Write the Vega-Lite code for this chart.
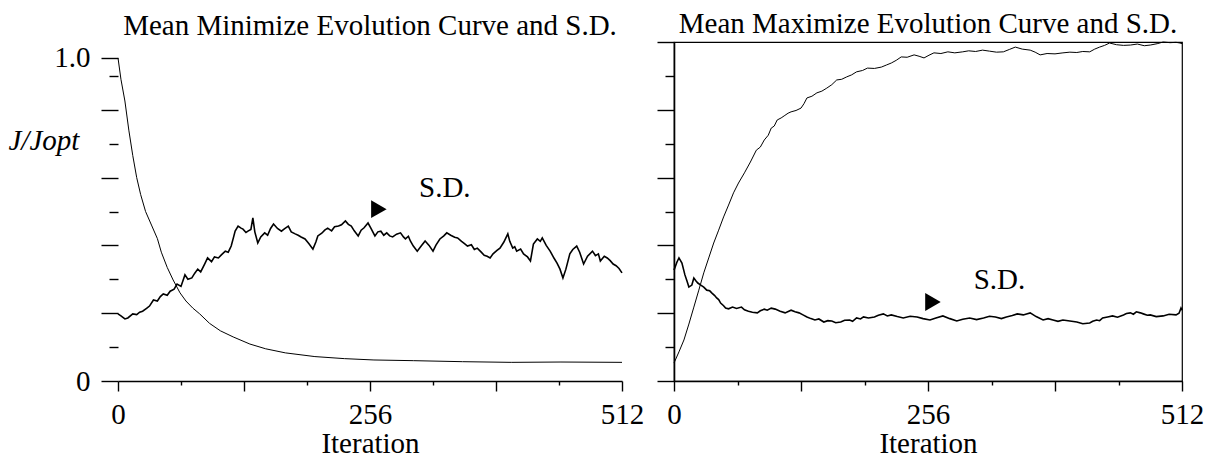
{
 "$schema": "https://vega.github.io/schema/vega-lite/v6.json",
 "background": "white",
 "padding": {"left": 8, "top": 9, "right": 5, "bottom": 0},
 "spacing": 11,
 "config": {
  "font": "Liberation Serif",
  "view": {"stroke": "black", "strokeWidth": 1.2},
  "axis": {"domainColor": "black", "domainWidth": 1.6, "tickColor": "black", "tickWidth": 1.4, "labelColor": "black", "labelFont": "Liberation Serif", "labelFontSize": 29, "titleFont": "Liberation Serif", "titleFontSize": 29, "titleFontWeight": "normal", "titleColor": "black", "grid": false},
  "title": {"font": "Liberation Serif", "fontSize": 29, "fontWeight": "normal", "color": "black", "baseline": "alphabetic", "offset": 1, "anchor": "middle"}
 },
 "datasets": {
  "minMean": [{"it":0,"v":0.953},{"it":3,"v":0.89},{"it":7,"v":0.826},{"it":11,"v":0.74},{"it":15,"v":0.665},{"it":19,"v":0.6},{"it":23,"v":0.55},{"it":28,"v":0.5},{"it":34,"v":0.46},{"it":40,"v":0.42},{"it":44,"v":0.38},{"it":50,"v":0.335},{"it":56,"v":0.298},{"it":63,"v":0.26},{"it":69,"v":0.236},{"it":76,"v":0.215},{"it":83,"v":0.198},{"it":93,"v":0.17},{"it":104,"v":0.148},{"it":117,"v":0.13},{"it":134,"v":0.109},{"it":150,"v":0.095},{"it":170,"v":0.083},{"it":200,"v":0.072},{"it":230,"v":0.066},{"it":260,"v":0.062},{"it":300,"v":0.06},{"it":350,"v":0.057},{"it":400,"v":0.055},{"it":450,"v":0.056},{"it":512,"v":0.055}],
  "minSD": [{"it":0,"v":0.198},{"it":3,"v":0.192},{"it":7,"v":0.183},{"it":10,"v":0.186},{"it":15,"v":0.198},{"it":19,"v":0.196},{"it":22,"v":0.203},{"it":25,"v":0.206},{"it":29,"v":0.214},{"it":32,"v":0.221},{"it":36,"v":0.239},{"it":40,"v":0.236},{"it":43,"v":0.249},{"it":46,"v":0.257},{"it":50,"v":0.253},{"it":53,"v":0.265},{"it":57,"v":0.271},{"it":60,"v":0.286},{"it":64,"v":0.279},{"it":68,"v":0.313},{"it":71,"v":0.3},{"it":75,"v":0.304},{"it":78,"v":0.318},{"it":81,"v":0.33},{"it":84,"v":0.322},{"it":88,"v":0.345},{"it":91,"v":0.363},{"it":95,"v":0.352},{"it":98,"v":0.366},{"it":102,"v":0.363},{"it":105,"v":0.372},{"it":109,"v":0.383},{"it":112,"v":0.38},{"it":115,"v":0.398},{"it":117,"v":0.42},{"it":119,"v":0.442},{"it":122,"v":0.457},{"it":125,"v":0.451},{"it":127,"v":0.448},{"it":130,"v":0.438},{"it":132,"v":0.442},{"it":135,"v":0.447},{"it":137,"v":0.481},{"it":139,"v":0.44},{"it":142,"v":0.407},{"it":145,"v":0.425},{"it":149,"v":0.437},{"it":152,"v":0.43},{"it":155,"v":0.45},{"it":158,"v":0.463},{"it":162,"v":0.45},{"it":166,"v":0.442},{"it":169,"v":0.449},{"it":173,"v":0.457},{"it":176,"v":0.44},{"it":180,"v":0.434},{"it":183,"v":0.43},{"it":186,"v":0.425},{"it":190,"v":0.419},{"it":194,"v":0.405},{"it":198,"v":0.389},{"it":201,"v":0.41},{"it":203,"v":0.428},{"it":207,"v":0.436},{"it":210,"v":0.445},{"it":213,"v":0.451},{"it":217,"v":0.443},{"it":220,"v":0.455},{"it":224,"v":0.457},{"it":227,"v":0.461},{"it":231,"v":0.472},{"it":234,"v":0.462},{"it":237,"v":0.457},{"it":240,"v":0.443},{"it":244,"v":0.428},{"it":247,"v":0.445},{"it":250,"v":0.452},{"it":254,"v":0.466},{"it":257,"v":0.45},{"it":261,"v":0.428},{"it":264,"v":0.44},{"it":267,"v":0.442},{"it":270,"v":0.43},{"it":273,"v":0.437},{"it":276,"v":0.428},{"it":279,"v":0.425},{"it":283,"v":0.433},{"it":287,"v":0.437},{"it":290,"v":0.425},{"it":292,"v":0.419},{"it":295,"v":0.427},{"it":297,"v":0.413},{"it":300,"v":0.398},{"it":304,"v":0.383},{"it":308,"v":0.398},{"it":312,"v":0.413},{"it":316,"v":0.4},{"it":320,"v":0.383},{"it":323,"v":0.401},{"it":327,"v":0.419},{"it":331,"v":0.428},{"it":334,"v":0.437},{"it":338,"v":0.43},{"it":342,"v":0.424},{"it":345,"v":0.422},{"it":349,"v":0.412},{"it":352,"v":0.405},{"it":355,"v":0.398},{"it":359,"v":0.402},{"it":362,"v":0.388},{"it":365,"v":0.392},{"it":369,"v":0.38},{"it":372,"v":0.371},{"it":375,"v":0.368},{"it":378,"v":0.363},{"it":381,"v":0.375},{"it":385,"v":0.385},{"it":388,"v":0.392},{"it":392,"v":0.41},{"it":396,"v":0.434},{"it":398,"v":0.412},{"it":401,"v":0.392},{"it":403,"v":0.396},{"it":405,"v":0.383},{"it":409,"v":0.389},{"it":412,"v":0.375},{"it":416,"v":0.366},{"it":419,"v":0.354},{"it":422,"v":0.404},{"it":426,"v":0.419},{"it":429,"v":0.412},{"it":431,"v":0.422},{"it":435,"v":0.4},{"it":439,"v":0.383},{"it":443,"v":0.362},{"it":446,"v":0.348},{"it":449,"v":0.33},{"it":452,"v":0.304},{"it":455,"v":0.33},{"it":459,"v":0.375},{"it":462,"v":0.388},{"it":466,"v":0.398},{"it":469,"v":0.38},{"it":473,"v":0.345},{"it":477,"v":0.368},{"it":482,"v":0.383},{"it":485,"v":0.37},{"it":488,"v":0.375},{"it":490,"v":0.354},{"it":494,"v":0.368},{"it":497,"v":0.363},{"it":500,"v":0.355},{"it":503,"v":0.345},{"it":506,"v":0.34},{"it":509,"v":0.332},{"it":512,"v":0.319}],
  "maxMean": [{"it":0,"v":0.053},{"it":5,"v":0.086},{"it":10,"v":0.121},{"it":15,"v":0.168},{"it":20,"v":0.218},{"it":25,"v":0.268},{"it":30,"v":0.319},{"it":35,"v":0.363},{"it":40,"v":0.407},{"it":45,"v":0.445},{"it":50,"v":0.484},{"it":55,"v":0.519},{"it":60,"v":0.555},{"it":65,"v":0.584},{"it":71,"v":0.614},{"it":77,"v":0.646},{"it":83,"v":0.681},{"it":87,"v":0.69},{"it":91,"v":0.711},{"it":95,"v":0.725},{"it":98,"v":0.746},{"it":101,"v":0.752},{"it":104,"v":0.77},{"it":108,"v":0.776},{"it":111,"v":0.782},{"it":115,"v":0.79},{"it":118,"v":0.794},{"it":123,"v":0.798},{"it":128,"v":0.805},{"it":131,"v":0.818},{"it":134,"v":0.835},{"it":139,"v":0.84},{"it":144,"v":0.85},{"it":149,"v":0.855},{"it":154,"v":0.864},{"it":159,"v":0.874},{"it":164,"v":0.888},{"it":169,"v":0.89},{"it":174,"v":0.897},{"it":179,"v":0.903},{"it":184,"v":0.912},{"it":190,"v":0.916},{"it":195,"v":0.923},{"it":202,"v":0.922},{"it":209,"v":0.926},{"it":214,"v":0.932},{"it":219,"v":0.938},{"it":224,"v":0.946},{"it":229,"v":0.956},{"it":235,"v":0.955},{"it":242,"v":0.962},{"it":247,"v":0.958},{"it":252,"v":0.953},{"it":257,"v":0.961},{"it":262,"v":0.968},{"it":269,"v":0.966},{"it":276,"v":0.971},{"it":283,"v":0.968},{"it":291,"v":0.971},{"it":297,"v":0.974},{"it":304,"v":0.972},{"it":311,"v":0.976},{"it":318,"v":0.973},{"it":325,"v":0.97},{"it":332,"v":0.971},{"it":338,"v":0.978},{"it":344,"v":0.985},{"it":351,"v":0.979},{"it":359,"v":0.976},{"it":364,"v":0.97},{"it":369,"v":0.962},{"it":376,"v":0.966},{"it":384,"v":0.965},{"it":392,"v":0.968},{"it":399,"v":0.97},{"it":406,"v":0.969},{"it":412,"v":0.972},{"it":419,"v":0.971},{"it":424,"v":0.979},{"it":429,"v":0.985},{"it":434,"v":0.99},{"it":439,"v":0.997},{"it":446,"v":0.992},{"it":453,"v":0.99},{"it":460,"v":0.991},{"it":467,"v":0.994},{"it":474,"v":0.989},{"it":480,"v":0.991},{"it":487,"v":0.995},{"it":493,"v":1.0},{"it":500,"v":0.998},{"it":506,"v":0.999},{"it":510,"v":0.997},{"it":512,"v":0.995}],
  "maxSD": [{"it":0,"v":0.327},{"it":3,"v":0.351},{"it":5,"v":0.363},{"it":8,"v":0.348},{"it":11,"v":0.313},{"it":13,"v":0.296},{"it":15,"v":0.277},{"it":18,"v":0.283},{"it":20,"v":0.304},{"it":22,"v":0.296},{"it":24,"v":0.289},{"it":27,"v":0.283},{"it":30,"v":0.277},{"it":33,"v":0.268},{"it":36,"v":0.266},{"it":38,"v":0.26},{"it":41,"v":0.252},{"it":43,"v":0.245},{"it":45,"v":0.24},{"it":47,"v":0.23},{"it":50,"v":0.222},{"it":52,"v":0.215},{"it":55,"v":0.213},{"it":59,"v":0.218},{"it":63,"v":0.214},{"it":68,"v":0.218},{"it":71,"v":0.21},{"it":75,"v":0.206},{"it":79,"v":0.203},{"it":84,"v":0.201},{"it":87,"v":0.207},{"it":91,"v":0.212},{"it":94,"v":0.209},{"it":98,"v":0.215},{"it":102,"v":0.212},{"it":107,"v":0.206},{"it":112,"v":0.201},{"it":118,"v":0.209},{"it":122,"v":0.204},{"it":126,"v":0.201},{"it":130,"v":0.195},{"it":134,"v":0.189},{"it":138,"v":0.184},{"it":142,"v":0.18},{"it":146,"v":0.183},{"it":151,"v":0.174},{"it":155,"v":0.178},{"it":159,"v":0.177},{"it":163,"v":0.172},{"it":168,"v":0.174},{"it":172,"v":0.179},{"it":177,"v":0.18},{"it":180,"v":0.176},{"it":184,"v":0.186},{"it":188,"v":0.183},{"it":191,"v":0.189},{"it":196,"v":0.186},{"it":202,"v":0.189},{"it":206,"v":0.194},{"it":211,"v":0.198},{"it":215,"v":0.192},{"it":219,"v":0.195},{"it":225,"v":0.19},{"it":231,"v":0.186},{"it":238,"v":0.191},{"it":245,"v":0.189},{"it":251,"v":0.184},{"it":258,"v":0.18},{"it":264,"v":0.186},{"it":271,"v":0.192},{"it":278,"v":0.184},{"it":285,"v":0.177},{"it":291,"v":0.182},{"it":298,"v":0.186},{"it":305,"v":0.181},{"it":312,"v":0.186},{"it":318,"v":0.191},{"it":324,"v":0.189},{"it":330,"v":0.184},{"it":335,"v":0.189},{"it":341,"v":0.193},{"it":346,"v":0.198},{"it":352,"v":0.195},{"it":359,"v":0.201},{"it":365,"v":0.19},{"it":372,"v":0.18},{"it":377,"v":0.184},{"it":382,"v":0.18},{"it":387,"v":0.176},{"it":392,"v":0.18},{"it":399,"v":0.177},{"it":406,"v":0.174},{"it":412,"v":0.169},{"it":419,"v":0.171},{"it":422,"v":0.176},{"it":426,"v":0.18},{"it":429,"v":0.178},{"it":432,"v":0.186},{"it":437,"v":0.189},{"it":442,"v":0.192},{"it":447,"v":0.188},{"it":453,"v":0.195},{"it":456,"v":0.199},{"it":460,"v":0.201},{"it":463,"v":0.197},{"it":466,"v":0.204},{"it":470,"v":0.201},{"it":473,"v":0.198},{"it":477,"v":0.194},{"it":480,"v":0.195},{"it":486,"v":0.19},{"it":493,"v":0.192},{"it":499,"v":0.197},{"it":506,"v":0.195},{"it":509,"v":0.2},{"it":511,"v":0.215},{"it":512,"v":0.209}],
  "minLabel": [{"it":332,"v":0.569,"label":"S.D."}],
  "minArrow": [{"it":265,"v":0.507}],
  "maxLabel": [{"it":328,"v":0.298,"label":"S.D."}],
  "maxArrow": [{"it":261,"v":0.233}]
 },
 "hconcat": [
  {
   "width": 504,
   "height": 339,
   "title": "Mean Minimize Evolution Curve and S.D.",
   "view": {"stroke": null},
   "encoding": {
    "x": {"field": "it", "type": "quantitative", "scale": {"domain": [0, 512], "nice": false, "zero": false},
     "axis": {"values": [0, 64, 128, 192, 256, 320, 384, 448, 512], "format": "d", "labelExpr": "datum.value % 256 == 0 ? datum.label : ''", "labelFlush": false, "labelOverlap": false, "labelFont": "Liberation Serif", "labelFontSize": 29, "labelColor": "black", "titleFont": "Liberation Serif", "titleFontSize": 29, "titleFontWeight": "normal", "titleColor": "black", "domainColor": "black", "domainWidth": 1.6, "tickColor": "black", "tickWidth": 1.4, "tickSize": {"condition": {"test": "datum.value % 128 == 0", "value": 10}, "value": 4}, "labelPadding": 9, "title": "Iteration", "titlePadding": 0}},
    "y": {"field": "v", "type": "quantitative", "scale": {"domain": [0, 1], "nice": false},
     "axis": {"values": [0, 0.1, 0.2, 0.3, 0.4, 0.5, 0.6, 0.7, 0.8, 0.9, 0.953], "domain": false, "labelExpr": "datum.value == 0 ? '0' : (datum.value > 0.95 ? '1.0' : '')", "labelOverlap": false, "labelFont": "Liberation Serif", "labelFontSize": 29, "labelColor": "black", "tickColor": "black", "tickWidth": 1.4, "tickSize": {"condition": {"test": "round(datum.value*10) % 2 == 0", "value": 17}, "value": 9}, "labelPadding": 11, "title": "J/Jopt", "titleFont": "Liberation Serif", "titleFontSize": 29, "titleFontWeight": "normal", "titleColor": "black", "titleFontStyle": "italic", "titleAngle": 0, "titleAlign": "left", "titleBaseline": "middle", "titleX": -110, "titleY": 98}}
   },
   "layer": [
    {"data": {"name": "minMean"}, "mark": {"type": "line", "color": "black", "strokeWidth": 1}},
    {"data": {"name": "minSD"}, "mark": {"type": "line", "color": "black", "strokeWidth": 1.6}},
    {"data": {"values": [{}]}, "mark": {"type": "rule", "color": "black", "strokeWidth": 1.3}, "encoding": {"x": {"datum": 0}, "y": {"datum": 0}, "y2": {"datum": 0.953}}},
    {"data": {"values": [{}]}, "mark": {"type": "rule", "color": "black", "strokeWidth": 1.3}, "encoding": {"x": {"datum": 512}, "y": {"datum": 0}, "y2": {"datum": 0.953}}},
    {"data": {"values": [{}]}, "mark": {"type": "rule", "color": "black", "strokeWidth": 1.3}, "encoding": {"x": {"datum": 0}, "x2": {"datum": 512}, "y": {"datum": 0.953}}},
    {"data": {"name": "minLabel"}, "mark": {"type": "text", "font": "Liberation Serif", "fontSize": 29, "color": "black", "align": "center", "baseline": "middle"}, "encoding": {"text": {"field": "label"}}},
    {"data": {"name": "minArrow"}, "mark": {"type": "point", "shape": "triangle-right", "filled": true, "color": "black", "size": 320, "opacity": 1}}
   ]
  },
  {
   "width": 508,
   "height": 339,
   "title": "Mean Maximize Evolution Curve and S.D.",
   "encoding": {
    "x": {"field": "it", "type": "quantitative", "scale": {"domain": [0, 512], "nice": false, "zero": false},
     "axis": {"values": [0, 64, 128, 192, 256, 320, 384, 448, 512], "format": "d", "labelExpr": "datum.value % 256 == 0 ? datum.label : ''", "labelFlush": false, "labelOverlap": false, "labelFont": "Liberation Serif", "labelFontSize": 29, "labelColor": "black", "titleFont": "Liberation Serif", "titleFontSize": 29, "titleFontWeight": "normal", "titleColor": "black", "domainColor": "black", "domainWidth": 1.6, "tickColor": "black", "tickWidth": 1.4, "tickSize": {"condition": {"test": "datum.value % 128 == 0", "value": 10}, "value": 4}, "labelPadding": 9, "title": "Iteration", "titlePadding": 0}},
    "y": {"field": "v", "type": "quantitative", "scale": {"domain": [0, 1], "nice": false},
     "axis": {"values": [0, 0.1, 0.2, 0.3, 0.4, 0.5, 0.6, 0.7, 0.8, 0.9, 1.0], "labels": false, "domainColor": "black", "domainWidth": 1.6, "tickColor": "black", "tickWidth": 1.4, "tickSize": {"condition": {"test": "round(datum.value*10) % 2 == 0", "value": 17}, "value": 9}, "title": null}}
   },
   "layer": [
    {"data": {"name": "maxMean"}, "mark": {"type": "line", "color": "black", "strokeWidth": 1}},
    {"data": {"name": "maxSD"}, "mark": {"type": "line", "color": "black", "strokeWidth": 1.6}},
    {"data": {"name": "maxLabel"}, "mark": {"type": "text", "font": "Liberation Serif", "fontSize": 29, "color": "black", "align": "center", "baseline": "middle"}, "encoding": {"text": {"field": "label"}}},
    {"data": {"name": "maxArrow"}, "mark": {"type": "point", "shape": "triangle-right", "filled": true, "color": "black", "size": 320, "opacity": 1}}
   ]
  }
 ]
}
